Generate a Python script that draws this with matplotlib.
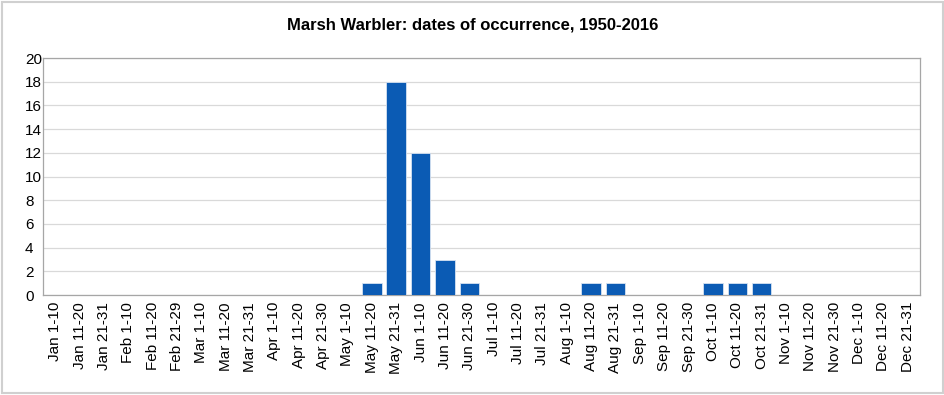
import matplotlib.pyplot as plt
from matplotlib.patches import Rectangle

plt.rcParams['font.family'] = ['Liberation Sans', 'DejaVu Sans']

periods = ['Jan 1-10', 'Jan 11-20', 'Jan 21-31', 'Feb 1-10', 'Feb 11-20', 'Feb 21-29',
           'Mar 1-10', 'Mar 11-20', 'Mar 21-31', 'Apr 1-10', 'Apr 11-20', 'Apr 21-30',
           'May 1-10', 'May 11-20', 'May 21-31', 'Jun 1-10', 'Jun 11-20', 'Jun 21-30',
           'Jul 1-10', 'Jul 11-20', 'Jul 21-31', 'Aug 1-10', 'Aug 11-20', 'Aug 21-31',
           'Sep 1-10', 'Sep 11-20', 'Sep 21-30', 'Oct 1-10', 'Oct 11-20', 'Oct 21-31',
           'Nov 1-10', 'Nov 11-20', 'Nov 21-30', 'Dec 1-10', 'Dec 11-20', 'Dec 21-31']
counts = [0, 0, 0, 0, 0, 0,
          0, 0, 0, 0, 0, 0,
          0, 1, 18, 12, 3, 1,
          0, 0, 0, 0, 1, 1,
          0, 0, 0, 1, 1, 1,
          0, 0, 0, 0, 0, 0]

fig = plt.figure(figsize=(9.45, 3.95), dpi=100)
ax = fig.add_axes([0.0455, 0.253, 0.928, 0.600])

x = range(len(periods))
ax.bar(x, counts, width=0.8, color='#0B5BB4', edgecolor='#d6e2f2', linewidth=0.6, zorder=3)

ax.set_xlim(-0.5, len(periods) - 0.5)
ax.set_ylim(0, 20)
ax.set_yticks(range(0, 21, 2))
ax.set_xticks(list(x))
ax.set_xticklabels(periods, rotation=90, fontsize=11)
ax.tick_params(axis='y', labelsize=11, length=0, pad=13)
ax.tick_params(axis='x', length=0, pad=5)
for lab in ax.get_yticklabels():
    lab.set_horizontalalignment('left')
ax.grid(axis='y', color='#d9d9d9', linewidth=0.9, zorder=0)
for s in ax.spines.values():
    s.set_color('#a6a6a6')
    s.set_linewidth(0.9)

fig.suptitle('Marsh Warbler: dates of occurrence, 1950-2016', fontsize=12,
             fontweight='bold', x=0.5, y=0.955)

fig.patches.append(Rectangle((0.002, 0.004), 0.996, 0.992, transform=fig.transFigure,
                             fill=False, edgecolor='#d0d0d0', linewidth=1.5))

fig.savefig('out.png', dpi=100)
